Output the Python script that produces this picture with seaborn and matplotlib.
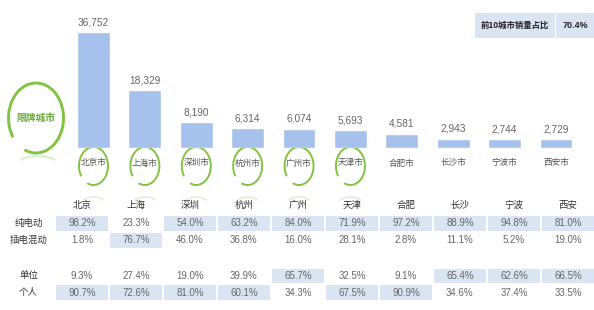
import numpy as np
import pandas as pd
import matplotlib
matplotlib.use("Agg")
import matplotlib.pyplot as plt
import seaborn as sns
from matplotlib.patches import Arc, Rectangle
from matplotlib.colors import ListedColormap
from matplotlib import font_manager

# ---------------- data ----------------
cities = ["北京市", "上海市", "深圳市", "杭州市", "广州市", "天津市", "合肥市", "长沙市", "宁波市", "西安市"]
sales = [36752, 18329, 8190, 6314, 6074, 5693, 4581, 2943, 2744, 2729]
restricted = [True, True, True, True, True, True, False, False, False, False]
table_cities = ["北京", "上海", "深圳", "杭州", "广州", "天津", "合肥", "长沙", "宁波", "西安"]
row_labels_1 = ["纯电动", "插电混动"]
row_labels_2 = ["单位", "个人"]
bev = [98.2, 23.3, 54.0, 63.2, 84.0, 71.9, 97.2, 88.9, 94.8, 81.0]
phev = [1.8, 76.7, 46.0, 36.8, 16.0, 28.1, 2.8, 11.1, 5.2, 19.0]
org = [9.3, 27.4, 19.0, 39.9, 65.7, 32.5, 9.1, 65.4, 62.6, 66.5]
personal = [90.7, 72.6, 81.0, 60.1, 34.3, 67.5, 90.9, 34.6, 37.4, 33.5]
top10_label = "前10城市销量占比"
top10_share = "70.4%"
big_label = "限牌城市"

# ---------------- style ----------------
sns.set_style("white")
plt.rcParams["font.family"] = ["Noto Sans CJK SC", "DejaVu Sans"]
avail = {f.name for f in font_manager.fontManager.ttflist}
num_font = "Liberation Sans Narrow" if "Liberation Sans Narrow" in avail else "Liberation Sans"

BAR_C = "#a6c2ec"
CELL_C = "#dae4f3"
GREEN = "#82c341"
GREEN_T = "#6aa83a"
TXT = "#666666"
HDR = "#333333"

W, H = 594, 310
fig = plt.figure(figsize=(W / 100, H / 100), dpi=100)
fig.patch.set_facecolor("white")


def px_axes(x0, y0, x1, y1, **kw):
    return fig.add_axes([x0 / W, 1 - y1 / H, (x1 - x0) / W, (y1 - y0) / H], **kw)


# overlay in pixel coordinates (y downward)
ov = fig.add_axes([0, 0, 1, 1])
ov.set_xlim(0, W)
ov.set_ylim(H, 0)
ov.axis("off")
ov.patch.set_alpha(0)

# ---------------- bars ----------------
axb = px_axes(67.8, 30, 581.7, 148)
sns.barplot(x=cities, y=sales, order=cities, ax=axb, color=BAR_C,
            saturation=1, width=0.64)
axb.set_xlim(-0.5, len(cities) - 0.5)
axb.set_ylim(0, 37400)
axb.axis("off")
axb.bar_label(axb.containers[0], labels=[f"{v:,}" for v in sales],
              padding=3.5, fontsize=7.3, color=TXT, family=num_font)

for i, c in enumerate(cities):
    dx, dy = axb.transData.transform((i, 0))
    cx, base = dx, H - dy
    ov.text(cx, base + 15, c, ha="center", va="center", fontsize=6.2,
            color="#555555")
    if restricted[i]:
        cy = base + 18
        ov.add_patch(Arc((cx, cy), 29, 38, theta1=140, theta2=470,
                         color=GREEN, lw=1.4))
        ov.add_patch(Arc((cx, cy + 38), 24, 14, theta1=200, theta2=340,
                         color=GREEN, lw=1.2, alpha=0.25))

# big "限牌城市" ring
ov.add_patch(Arc((36, 118), 55, 70, theta1=140, theta2=470, color=GREEN, lw=2.1))
ov.add_patch(Arc((38, 166), 44, 20, theta1=200, theta2=340, color=GREEN, lw=1.8, alpha=0.25))
ov.text(36, 118, big_label, ha="center", va="center", fontsize=7,
        fontweight="bold", color=GREEN_T)

# top-right summary box
ov.add_patch(Rectangle((475, 13), 80, 25, color=CELL_C, lw=0))
ov.add_patch(Rectangle((556, 13), 40, 25, color=CELL_C, lw=0))
ov.text(515, 25.5, top10_label, ha="center", va="center", fontsize=6,
        fontweight="bold", color="#222222")
ov.text(575, 25.5, top10_share, ha="center", va="center", fontsize=6.5,
        fontweight="bold", color="#222222", family=num_font)

# ---------------- table ----------------
cmap = ListedColormap(["white", CELL_C])


def block(vals, rows, box, header):
    df = pd.DataFrame(vals, index=rows, columns=table_cities)
    ax = px_axes(*box)
    sns.heatmap((df > 50).astype(int), ax=ax, cmap=cmap, vmin=0, vmax=1,
                cbar=False, annot=df.map(lambda v: f"{v:.1f}%").values,
                fmt="", linewidths=1.2, linecolor="white",
                annot_kws=dict(color=TXT, fontsize=7, family=num_font),
                xticklabels=table_cities if header else False,
                yticklabels=False)
    if header:
        ax.xaxis.tick_top()
        ax.tick_params(axis="x", length=0, pad=3.5)
        for t in ax.get_xticklabels():
            t.set_fontsize(6.8)
            t.set_color(HDR)
            t.set_rotation(0)
    ax.set_xlabel("")
    ax.set_ylabel("")
    for s in ax.spines.values():
        s.set_visible(False)
    # row labels
    n = len(rows)
    y0, y1 = box[1], box[3]
    for k, r in enumerate(rows):
        yc = y0 + (k + 0.5) * (y1 - y0) / n
        ov.text(28.5, yc, r, ha="center", va="center", fontsize=6.8, color=HDR)
    return ax


block([bev, phev], row_labels_1, (55, 215, 595, 248.5), True)
block([org, personal], row_labels_2, (55, 267.5, 595, 301), False)

fig.savefig("out.png", dpi=100)
